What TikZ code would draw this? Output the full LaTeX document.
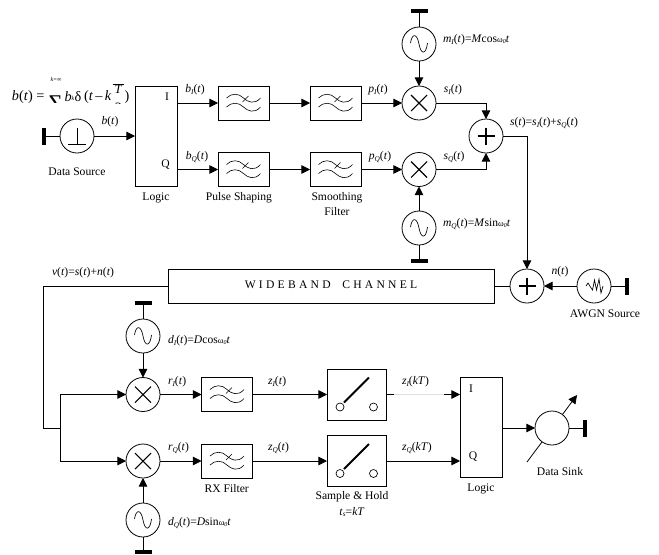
\documentclass[tikz,border=0pt]{standalone}
\usepackage{fontspec}
\setmainfont{Liberation Serif}
\usetikzlibrary{arrows.meta}
\newcommand\lsub[1]{\raisebox{-0.35ex}{\fontsize{5.5}{6}\selectfont\itshape #1}}
\newcommand\sigt[2]{\textit{#1}\lsub{#2}(\textit{t})}
\newcommand\omz{{\fontsize{6.5}{7}\selectfont ω\raisebox{-0.2ex}{\fontsize{4.5}{5}\selectfont\itshape 0}}}
\tikzset{
  x=0.75pt,y=-0.75pt,
  every node/.style={font=\fontsize{8.7}{10.5}\selectfont,inner sep=0pt,outer sep=0pt},
  formula/.style={font=\fontsize{10.7}{12}\selectfont},
  wire/.style={line width=0.6pt},
  arr/.style={wire,-{Triangle[length=6.4pt,width=6.4pt]}},
  blk/.style={draw,line width=0.6pt,rectangle},
  filt/.style={blk,minimum width=38.25pt,minimum height=25.5pt},
  swbox/.style={blk,minimum width=44.25pt,minimum height=38.25pt},
  logicbox/.style={blk,minimum width=31.5pt,minimum height=75pt},
  circ/.style={draw,line width=0.6pt,circle,minimum size=25.5pt,fill=white},
  hbar/.style={fill=black,rectangle,minimum width=12.75pt,minimum height=2.8pt},
  vbar/.style={fill=black,rectangle,minimum width=2.8pt,minimum height=12.75pt},
  lbl/.style={anchor=west},
  filtersym/.pic={
    \draw[line width=0.45pt] (-17,-5) .. controls (-12,-10) and (-5,-10) .. (0,-5) .. controls (4,-1) and (11,2) .. (17,-5);
    \draw[line width=0.45pt] (-17,4) .. controls (-12,-1) and (-5,-1) .. (0,4) .. controls (4,8) and (11,11) .. (17,4);
    \draw[line width=0.45pt] (-1,-1) -- (5,-7);
  },
  sinesym/.pic={
    \draw[line width=0.5pt] (-8.5,-1) .. controls (-7,-11) and (-2,-11) .. (0,0) .. controls (2,11) and (7,11) .. (8.5,-1);
  },
  crosssym/.pic={
    \draw[line width=0.8pt] (-8,-8) -- (8,8) (-8,8) -- (8,-8);
  },
  plussym/.pic={
    \draw[line width=1pt] (-8.5,0) -- (8.5,0) (0,-8.5) -- (0,8.5);
  },
  noisesym/.pic={
    \draw[line width=0.5pt] (-8,0) -- (-6,-3) -- (-3.5,1) -- (-1.5,4) -- (0.5,-6) -- (2.5,4) -- (5,-7) -- (7,7) -- (9,0);
  },
  switchsym/.pic={
    \draw[line width=0.5pt] (-16.5,12.5) circle (4);
    \draw[line width=0.5pt] (17,12.5) circle (4);
    \draw[line width=1.5pt] (-12.5,8) -- (12.5,-17);
  }
}
\begin{document}
\begin{tikzpicture}
\useasboundingbox (0,0) rectangle (659,554);
% transmitter blocks
\node[circ] (src) at (77,136) {};
\node[vbar] (srcbar) at (44,136) {};
\node[logicbox] (logicT) at (156,136) {};
\node[filt] (fI1) at (243.5,103) {};
\node[filt] (fQ1) at (243.5,169.5) {};
\node[filt] (fI2) at (335.5,103) {};
\node[filt] (fQ2) at (335.5,169.5) {};
\node[circ] (mixI) at (419,103) {};
\node[circ] (mixQ) at (419,169.5) {};
\node[circ] (oscI) at (419,44) {};
\node[circ] (oscQ) at (419,228) {};
\node[hbar] (oscIbar) at (419,11) {};
\node[hbar] (oscQbar) at (419,261) {};
\node[circ] (sumT) at (486,136) {};
% channel
\node[blk,minimum width=244.5pt,minimum height=25.5pt] (chan) at (331,286) {};
\node[circ] (sumN) at (527,286) {};
\node[circ] (awgn) at (594,286) {};
\node[vbar] (awgnbar) at (627,286) {};
% receiver blocks
\node[circ] (rxI) at (143,394.5) {};
\node[circ] (rxQ) at (143,461) {};
\node[circ] (oscdI) at (143,336) {};
\node[circ] (oscdQ) at (143,520) {};
\node[hbar] (oscdIbar) at (143,303) {};
\node[hbar] (oscdQbar) at (143,552) {};
\node[filt] (rfI) at (227,394.5) {};
\node[filt] (rfQ) at (227,461) {};
\node[swbox] (shI) at (356.5,394.5) {};
\node[swbox] (shQ) at (356.5,461) {};
\node[logicbox] (logicR) at (481,427.5) {};
\node[vbar] (sinkbar) at (585,428) {};
\coordinate (sinkA) at (527,462);
\coordinate (sinkB) at (577,395);
\draw[arr] (sinkA) -- (sinkB);
\node[circ] (sink) at (552,428) {};
% symbols
\draw[line width=0.5pt] (77,128) -- (77,144) (68,144) -- (86,144);
\foreach \f in {fI1,fQ1,fI2,fQ2,rfI,rfQ} \pic at (\f) {filtersym};
\foreach \f in {oscI,oscQ,oscdI,oscdQ} \pic at (\f) {sinesym};
\foreach \f in {mixI,mixQ,rxI,rxQ} \pic at (\f) {crosssym};
\foreach \f in {sumT,sumN} \pic at (\f) {plussym};
\pic at (awgn) {noisesym};
\foreach \f in {shI,shQ} \pic at (\f) {switchsym};
% connectors
\draw[wire] (srcbar) -- (src);
\draw[arr] (src) -- (logicT.west |- src);
\draw[arr] (logicT.east |- fI1) -- (fI1);
\draw[arr] (logicT.east |- fQ1) -- (fQ1);
\draw[arr] (fI1) -- (fI2);
\draw[arr] (fQ1) -- (fQ2);
\draw[arr] (fI2) -- (mixI);
\draw[arr] (fQ2) -- (mixQ);
\draw[wire] (oscIbar) -- (oscI);
\draw[wire] (oscQbar) -- (oscQ);
\draw[arr] (oscI) -- (mixI);
\draw[arr] (oscQ) -- (mixQ);
\draw[arr] (mixI.east) -| (sumT.north);
\draw[arr] (mixQ.east) -| (sumT.south);
\draw[arr] (sumT.east) -| (sumN.north);
\draw[wire] (chan.east) -- (sumN.west);
\draw[arr] (awgn) -- (sumN);
\draw[wire] (awgn) -- (awgnbar);
\coordinate (vcorner) at (43.5,286);
\coordinate (vdown) at (43.5,428);
\coordinate (branch) at (60,428);
\draw[wire] (chan.west) -- (vcorner) -- (vdown) -- (branch);
\draw[arr] (branch) |- (rxI.west);
\draw[arr] (branch) |- (rxQ.west);
\draw[wire] (oscdIbar) -- (oscdI);
\draw[wire] (oscdQbar) -- (oscdQ);
\draw[arr] (oscdI) -- (rxI);
\draw[arr] (oscdQ) -- (rxQ);
\draw[arr] (rxI) -- (rfI);
\draw[arr] (rxQ) -- (rfQ);
\draw[arr] (rfI) -- (shI);
\draw[arr] (rfQ) -- (shQ);
\coordinate (zA) at (394,394.5);
\coordinate (zB) at (444,394.5);
\draw[wire] (shI.east) -- (zA);
\draw[black!12,line width=0.6pt] (zA) -- (zB);
\draw[arr] (zB) -- (logicR.west |- zB);
\draw[arr] (shQ) -- (logicR.west |- shQ);
\draw[arr] (logicR.east |- sink) -- (sink);
\draw[wire] (sink) -- (sinkbar);
% formula, cut off as printed
\node[lbl,formula] (fb) at (12,97) {\textit{b}(\textit{t}) =};
\node[font=\fontsize{4.5}{5}\selectfont\itshape] (fk) at (56,79) {k=∞};
\begin{scope}
  \clip (46,94) rectangle (66,102.5);
  \node[font=\fontsize{18}{20}\selectfont] (fsum) at (55.5,104) {Σ};
\end{scope}
\node[lbl,formula] (fbk) at (64.5,97) {\textit{b}\raisebox{0.2ex}{\fontsize{4.5}{5}\selectfont\itshape k}};
\node[lbl,formula] (fd) at (74.5,97) {δ};
\node[lbl,formula] (ft) at (84,97) {(\textit{t}\,–\,\textit{k}};
\node[font=\fontsize{9.5}{11}\selectfont] (fT) at (118.5,89) {\textit{T}};
\draw[line width=0.6pt] (113,84) -- (124,84);
\begin{scope}
  \clip (110,100) rectangle (126,103);
  \node[formula] (f2) at (118.5,107.5) {2};
\end{scope}
\node[lbl,formula] (fc) at (124.5,97) {)};
% labels
\node (t1) at (110,122) {\textit{b}(\textit{t})};
\node (t2) at (167,97) {I};
\node (t3) at (165.5,165) {Q};
\node (t4) at (195,90) {\sigt{b}{I}};
\node (t5) at (197,157) {\sigt{b}{Q}};
\node (t6) at (77,172) {Data Source};
\node (t7) at (156,198) {Logic};
\node (t8) at (239,198) {Pulse Shaping};
\node[align=center] (t9) at (337,204) {Smoothing\\[1pt]Filter};
\node (t10) at (378,90) {\sigt{p}{I}};
\node (t11) at (380,157) {\sigt{p}{Q}};
\node (t12) at (453,90) {\sigt{s}{I}};
\node (t13) at (454,157) {\sigt{s}{Q}};
\node[lbl] (t14) at (443,40) {\sigt{m}{I}=\textit{M}cos\omz\textit{t}};
\node[lbl] (t15) at (443,224) {\sigt{m}{Q}=\textit{M}sin\omz\textit{t}};
\node[lbl] (t16) at (510,123) {\textit{s}(\textit{t})=\sigt{s}{I}+\sigt{s}{Q}};
\node[lbl] (t17) at (52,273) {\textit{v}(\textit{t})=\textit{s}(\textit{t})+\textit{n}(\textit{t})};
\node (t18) at (331,285) {\addfontfeature{LetterSpace=28}WIDEBAND\hspace{1em}CHANNEL};
\node (t19) at (560,272) {\textit{n}(\textit{t})};
\node (t20) at (605,314) {AWGN Source};
\node[lbl] (t21) at (168,341) {\sigt{d}{I}=\textit{D}cos\omz\textit{t}};
\node[lbl] (t22) at (168,523) {\sigt{d}{Q}=\textit{D}sin\omz\textit{t}};
\node[lbl] (t23) at (168,382) {\sigt{r}{I}};
\node[lbl] (t24) at (168,448) {\sigt{r}{Q}};
\node[lbl] (t25) at (268,382) {\sigt{z}{I}};
\node[lbl] (t26) at (268,448) {\sigt{z}{Q}};
\node[lbl] (t27) at (402,382) {\textit{z}\lsub{I}(\textit{kT})};
\node[lbl] (t28) at (402,448) {\textit{z}\lsub{Q}(\textit{kT})};
\node (t29) at (471,389) {I};
\node (t30) at (473,457) {Q};
\node (t31) at (226.7,489) {RX Filter};
\node (t32) at (352,497) {Sample \& Hold};
\node (t33) at (352,512) {\textit{t}\lsub{s}=\textit{kT}};
\node (t34) at (481,489) {Logic};
\node (t35) at (560,472) {Data Sink};
\end{tikzpicture}
\end{document}
